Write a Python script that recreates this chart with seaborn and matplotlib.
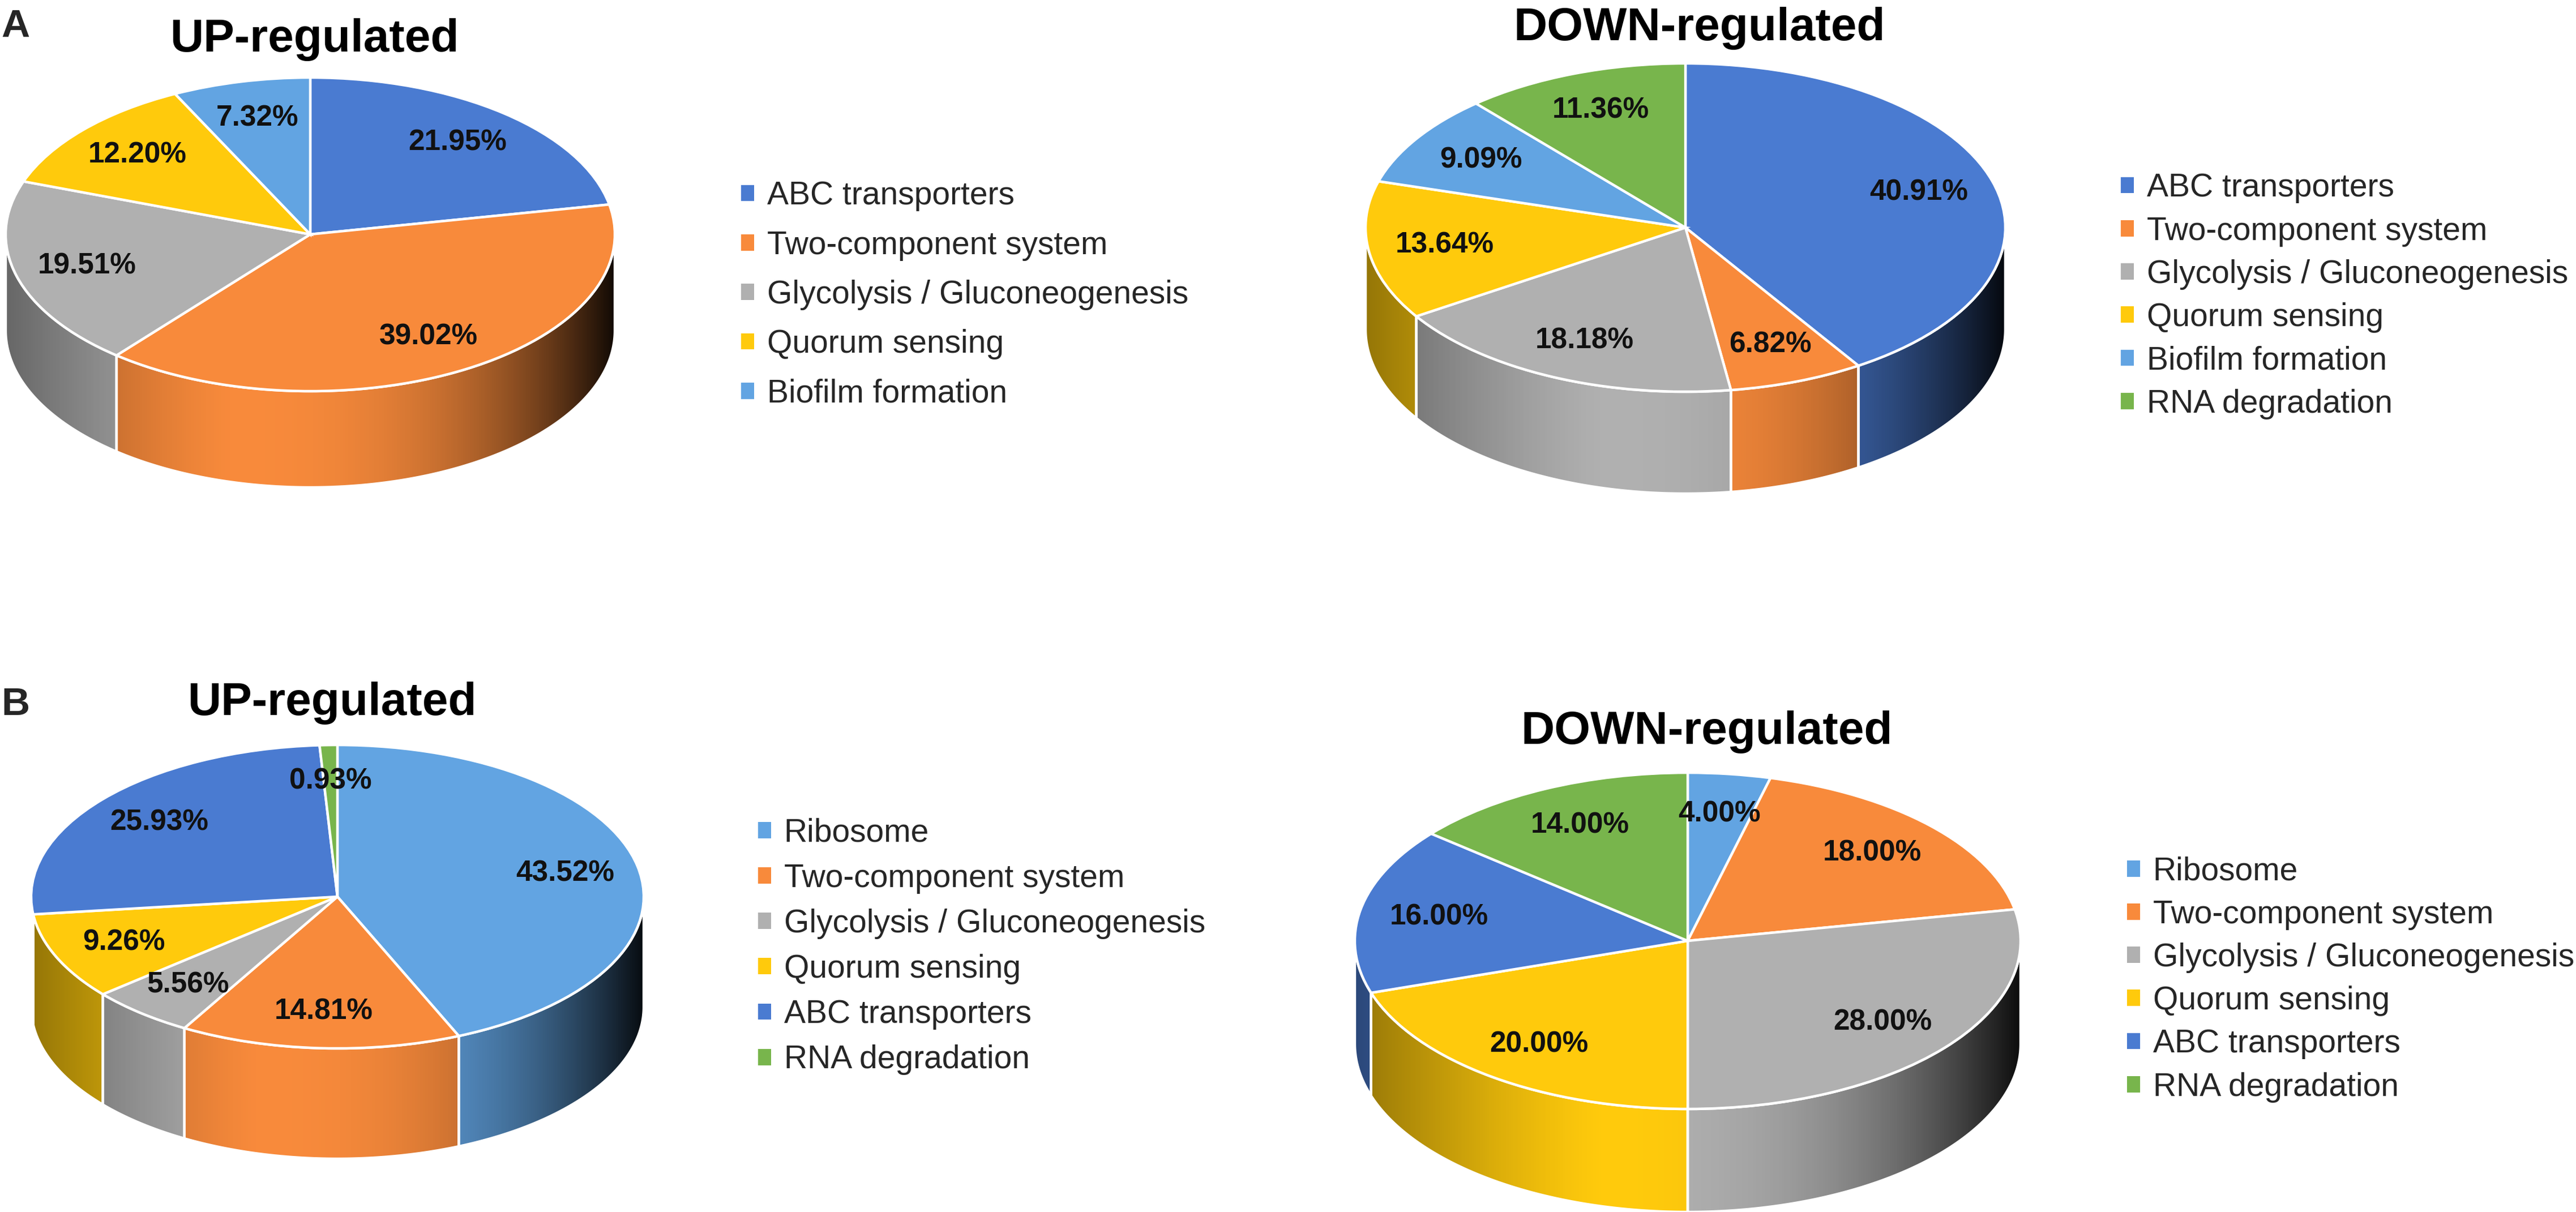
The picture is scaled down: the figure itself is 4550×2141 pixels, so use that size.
import numpy as np
import matplotlib
matplotlib.use('Agg')
import matplotlib.pyplot as plt
import matplotlib.colors as mcolors
from matplotlib.patches import Polygon, Patch
from matplotlib.collections import PolyCollection
import seaborn as sns

# values (% of DEGs per KEGG pathway)
a_up_labels = ['ABC transporters', 'Two-component system', 'Glycolysis / Gluconeogenesis',
               'Quorum sensing', 'Biofilm formation']
a_up_pct = [21.95, 39.02, 19.51, 12.20, 7.32]

a_down_labels = ['ABC transporters', 'Two-component system', 'Glycolysis / Gluconeogenesis',
                 'Quorum sensing', 'Biofilm formation', 'RNA degradation']
a_down_pct = [40.91, 6.82, 18.18, 13.64, 9.09, 11.36]

b_up_labels = ['Ribosome', 'Two-component system', 'Glycolysis / Gluconeogenesis',
               'Quorum sensing', 'ABC transporters', 'RNA degradation']
b_up_pct = [43.52, 14.81, 5.56, 9.26, 25.93, 0.93]

b_down_labels = ['Ribosome', 'Two-component system', 'Glycolysis / Gluconeogenesis',
                 'Quorum sensing', 'ABC transporters', 'RNA degradation']
b_down_pct = [4.00, 18.00, 28.00, 20.00, 16.00, 14.00]

pathway_colors = {
    'ABC transporters': '#4A7BD1',
    'Two-component system': '#F88A3B',
    'Glycolysis / Gluconeogenesis': '#B0B0B0',
    'Quorum sensing': '#FFCA0C',
    'Biofilm formation': '#62A4E2',
    'Ribosome': '#62A4E2',
    'RNA degradation': '#78B54C',
}

sns.set_theme(style='white')
plt.rcParams['font.family'] = ['Liberation Sans', 'DejaVu Sans']

W, H = 4550, 2141
fig = plt.figure(figsize=(W / 200, H / 200), dpi=200)


def shade(x):
    # side of the 3d pie: lightest a bit left of centre, dark towards the right edge
    if x < -0.25:
        return 1 - 0.42 * ((-0.25 - x) / 0.75) ** 1.3
    return 1 - 0.93 * ((x + 0.25) / 1.25) ** 2.5


def pie3d(values, labels, cx, cy, rx, ry, depth):
    d = depth / ry
    top = cy - 1.06 * ry
    bottom = cy + ry + depth + 0.06 * ry
    ax = fig.add_axes([(cx - 1.06 * rx) / W, 1 - bottom / H, 2.12 * rx / W, (bottom - top) / H])
    cols = [pathway_colors[l] for l in labels]
    vals = iter(values)
    wedges, texts, autotexts = ax.pie(
        values, colors=cols, startangle=90, counterclock=False,
        autopct=lambda p: '{:.2f}%'.format(next(vals)), pctdistance=0.76,
        wedgeprops=dict(edgecolor='white', linewidth=1.6),
        textprops=dict(fontsize=18.5, fontweight='bold', color='#111111'))
    ax.set_aspect('auto')
    ax.set_xlim(-1.06, 1.06)
    ax.set_ylim(-(1 + d + 0.06), 1.06)
    for w in wedges:
        w.set_zorder(3)
    for t in autotexts:
        t.set_zorder(5)

    polys, fcs = [], []
    for w, c in zip(wedges, cols):
        base = np.array(mcolors.to_rgb(c))
        for k in range(-2, 3):
            lo = max(w.theta1, 180 + 360 * k)
            hi = min(w.theta2, 360 + 360 * k)
            if hi <= lo:
                continue
            t = np.radians(np.linspace(lo, hi, max(2, int((hi - lo) * 2) + 1)))
            x, y = np.cos(t), np.sin(t)
            for i in range(len(t) - 1):
                xm = 0.5 * (x[i] + x[i + 1])
                polys.append([(x[i], y[i]), (x[i + 1], y[i + 1]),
                              (x[i + 1], y[i + 1] - d), (x[i], y[i] - d)])
                fcs.append(np.clip(base * shade(xm), 0, 1))
            outline = np.vstack([np.c_[x, y], np.c_[x[::-1], y[::-1] - d]])
            ax.add_patch(Polygon(outline, closed=True, fill=False, edgecolor='white',
                                 linewidth=1.6, zorder=2))
    ax.add_collection(PolyCollection(polys, facecolors=fcs, edgecolors=fcs,
                                     linewidths=0.6, zorder=1))
    return ax


def legend(labels, lx, ly, spacing):
    handles = [Patch(facecolor=pathway_colors[l], edgecolor='none') for l in labels]
    fig.legend(handles, labels, loc='center left', bbox_to_anchor=(lx / W, 1 - ly / H),
               frameon=False, fontsize=20.5, handlelength=0.4, handleheight=0.4,
               handletextpad=0.4, labelspacing=spacing, borderpad=0, borderaxespad=0)


def title(txt, cx, base):
    fig.text(cx / W, 1 - base / H, txt, ha='center', va='baseline',
             fontsize=29.5, fontweight='bold', color='black')


# panel A
pie3d(a_up_pct, a_up_labels, 548, 414, 538, 277, 170)
title('UP-regulated', 555, 91)
legend(a_up_labels, 1309, 521, 0.585)

pie3d(a_down_pct, a_down_labels, 2977, 402, 565, 290, 180)
title('DOWN-regulated', 3002, 71)
legend(a_down_labels, 3746, 523, 0.39)

# panel B
pie3d(b_up_pct, b_up_labels, 596, 1584, 541, 268, 195)
title('UP-regulated', 586, 1263)
legend(b_up_labels, 1339, 1672, 0.46)

pie3d(b_down_pct, b_down_labels, 2981, 1662, 588, 297, 182)
title('DOWN-regulated', 3015, 1314)
legend(b_down_labels, 3757, 1730, 0.39)

fig.text(2 / W, 1 - 65 / H, 'A', ha='left', va='baseline', fontsize=25, fontweight='bold')
fig.text(2 / W, 1 - 1263 / H, 'B', ha='left', va='baseline', fontsize=25, fontweight='bold')

fig.savefig('out.png', dpi=200, facecolor='white')
